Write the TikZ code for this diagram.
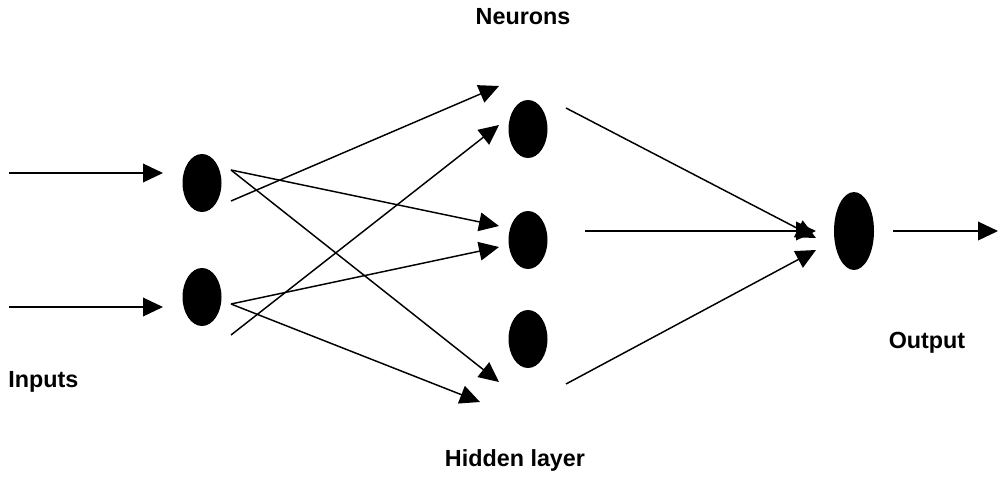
\documentclass[tikz,border=0pt]{standalone}
\usepackage{fontspec}
\setmainfont{Liberation Sans}
\usetikzlibrary{shapes.geometric,arrows.meta}
\begin{document}
\begin{tikzpicture}[x=0.75pt,y=-0.75pt,
  neuron/.style={ellipse,fill=black,draw=none,minimum width=29.25pt,minimum height=43.5pt,inner sep=0pt},
  conn/.style={line width=1.1pt,-{Triangle[length=15pt,width=14pt]}},
  lbl/.style={font=\bfseries\fontsize{17.5}{20}\selectfont,inner sep=0pt}]
\useasboundingbox (0,0) rectangle (1000,476);
% neurons
\node[neuron] (i1) at (202,183) {};
\node[neuron] (i2) at (202,297) {};
\node[neuron] (h1) at (528,129) {};
\node[neuron] (h2) at (528,240) {};
\node[neuron] (h3) at (528,339) {};
\node[neuron,minimum width=30pt,minimum height=58.5pt] (o) at (854,231) {};
% coordinates
\coordinate (in1s) at (9,173);   \coordinate (in1e) at (163,173);
\coordinate (in2s) at (9,307);   \coordinate (in2e) at (163,307);
\coordinate (i1a) at (231,170);  \coordinate (i1b) at (231,201);
\coordinate (i2a) at (231,304);  \coordinate (i2b) at (231,335);
\coordinate (t1) at (499,86);    \coordinate (t2) at (499,125);
\coordinate (t3) at (499,226);   \coordinate (t4) at (499,247);
\coordinate (t5) at (499,382);   \coordinate (t6) at (480,402);
\coordinate (h1s) at (566,108);  \coordinate (h2s) at (585,231);
\coordinate (h3s) at (566,384);
\coordinate (o1) at (816,238);   \coordinate (o2) at (816,231);
\coordinate (o3) at (816,250);
\coordinate (os) at (893,231);   \coordinate (oe) at (998,231);
% connectors
\draw[conn] (in1s) -- (in1e);
\draw[conn] (in2s) -- (in2e);
\draw[conn] (i1b) -- (t1);
\draw[conn] (i2b) -- (t2);
\draw[conn] (i1a) -- (t3);
\draw[conn] (i2a) -- (t4);
\draw[conn] (i1a) -- (t5);
\draw[conn] (i2a) -- (t6);
\draw[conn] (h1s) -- (o1);
\draw[conn] (h2s) -- (o2);
\draw[conn] (h3s) -- (o3);
\draw[conn] (os) -- (oe);
% labels
\node[lbl] (lneur) at (523,17) {Neurons};
\node[lbl,anchor=west] (lin) at (8,382) {Inputs};
\node[lbl] (lout) at (927,343) {Output};
\node[lbl] (lhid) at (515,460) {Hidden layer};
\end{tikzpicture}
\end{document}
